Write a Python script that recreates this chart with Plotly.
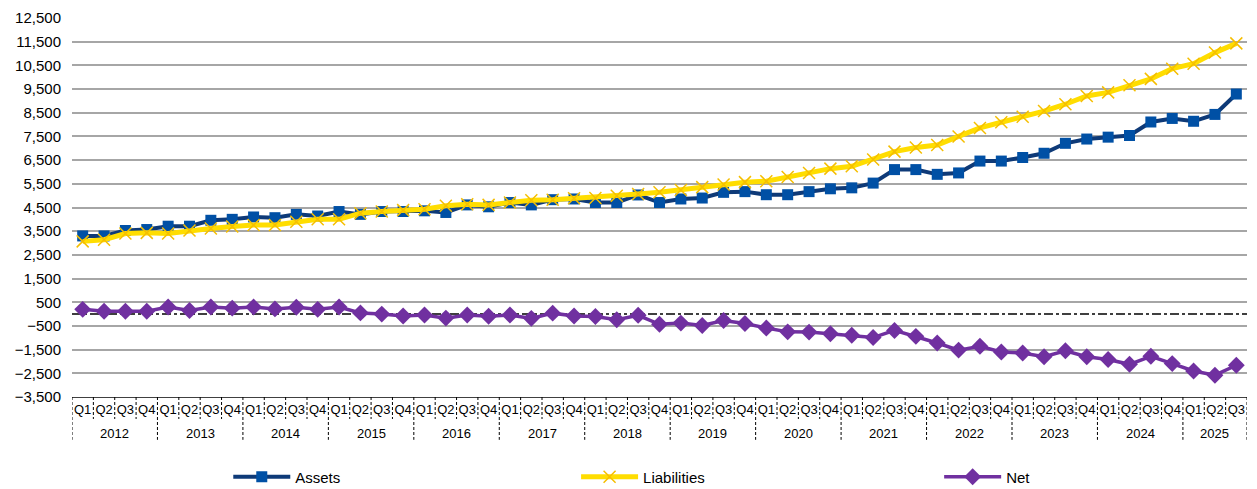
import plotly.graph_objects as go

years = [str(y) for y in range(2012, 2026)]
quarters = ["Q1", "Q2", "Q3", "Q4"]
year_labels = []
quarter_labels = []
for y in years:
    for q in quarters:
        if y == "2025" and q == "Q4":
            continue
        year_labels.append(y)
        quarter_labels.append(q)
categories = [f"{y} {q}" for y, q in zip(year_labels, quarter_labels)]

assets = [3300, 3300, 3530, 3570, 3710, 3710, 3960, 4000, 4100, 4070, 4210, 4140,
          4330, 4210, 4330, 4330, 4360, 4290, 4610, 4530, 4710, 4610, 4830, 4860,
          4710, 4710, 5030, 4710, 4860, 4900, 5140, 5170, 5040, 5040, 5170, 5290,
          5330, 5530, 6100, 6100, 5900, 5960, 6460, 6460, 6610, 6790, 7210, 7390,
          7470, 7540, 8110, 8260, 8140, 8430, 9290]

liabilities = [3070, 3140, 3400, 3430, 3400, 3530, 3610, 3700, 3760, 3760, 3900, 4000,
               4000, 4260, 4330, 4390, 4430, 4570, 4640, 4610, 4710, 4810, 4830, 4890,
               4900, 5000, 5070, 5140, 5240, 5360, 5470, 5570, 5610, 5790, 5960, 6140,
               6240, 6530, 6860, 7030, 7140, 7500, 7860, 8100, 8330, 8570, 8860, 9210,
               9360, 9660, 9930, 10360, 10570, 11040, 11430]

net = [200, 120, 120, 120, 300, 150, 300, 250, 300, 220, 290, 200,
       300, 50, 0, -80, -40, -170, -40, -90, -40, -180, 40, -80,
       -100, -240, -50, -430, -380, -480, -270, -400, -590, -750, -760, -830,
       -890, -990, -690, -940, -1220, -1520, -1360, -1600, -1640, -1800, -1550, -1800,
       -1920, -2120, -1780, -2090, -2400, -2580, -2160]

FONT = "Liberation Sans, Arial, sans-serif"

fig = go.Figure()
fig.add_trace(go.Scatter(
    x=categories, y=assets, name="Assets", mode="lines+markers", legend="legend",
    line=dict(color="#0E3A78", width=4),
    marker=dict(symbol="square", size=11, color="#0050A5"),
))
fig.add_trace(go.Scatter(
    x=categories, y=liabilities, name="Liabilities", mode="lines+markers", legend="legend2",
    line=dict(color="#FFDD00", width=5),
    marker=dict(symbol="x-thin", size=12, color="#F5BE00",
                line=dict(color="#F5BE00", width=1.5)),
))
fig.add_trace(go.Scatter(
    x=categories, y=net, name="Net", mode="lines+markers", legend="legend3",
    line=dict(color="#7030A0", width=3.5),
    marker=dict(symbol="diamond", size=13, color="#7030A0"),
))

# zero reference line
fig.add_shape(type="line", xref="paper", yref="y", x0=0, x1=1, y0=0, y1=0,
              line=dict(color="black", width=1.5, dash="dashdot"), layer="below")

# category dividers (dashed) and year labels
n = len(categories)
for i in range(n + 1):
    is_year = (i == n) or (quarter_labels[i] == "Q1")
    fig.add_shape(type="line", xref="x", yref="paper",
                  x0=i - 0.5, x1=i - 0.5, y0=0, y1=-0.113 if is_year else -0.058,
                  line=dict(color="black", width=1, dash="3px,2px"))
for y in years:
    idx = [i for i, yl in enumerate(year_labels) if yl == y]
    fig.add_annotation(x=(idx[0] + idx[-1]) / 2, y=-0.095, xref="x", yref="paper",
                       text=y, showarrow=False, yanchor="middle",
                       font=dict(family=FONT, size=13, color="black"))

legend_common = dict(orientation="h", xanchor="left", yref="container",
                     y=1 - 477 / 489, yanchor="middle",
                     itemwidth=57, font=dict(family=FONT, size=15),
                     bgcolor="rgba(0,0,0,0)")

fig.update_layout(
    width=1257, height=489,
    margin=dict(l=72, r=10, t=18, b=92),
    paper_bgcolor="white", plot_bgcolor="white",
    font=dict(family=FONT, size=13, color="#000000"),
    showlegend=True,
    legend=dict(x=0.133, **legend_common),
    legend2=dict(x=0.429, **legend_common),
    legend3=dict(x=0.738, **legend_common),
    xaxis=dict(type="category", showgrid=False, ticks="",
               tickmode="array", tickvals=categories, ticktext=quarter_labels,
               tickangle=0, tickfont=dict(size=13), automargin=False,
               showline=True, linecolor="#404040", linewidth=1,
               range=[-0.5, n - 0.5]),
    yaxis=dict(range=[-3500, 12500], tick0=-3500, dtick=1000, tickformat=",",
               showgrid=True, gridcolor="#A6A6A6", gridwidth=1.5, zeroline=False,
               showline=False, tickfont=dict(size=15), ticks="", automargin=False,
               ticklabelstandoff=10),
)

fig.write_html("out.html", config={"displayModeBar": False},
               post_script="document.body.style.margin='0';")
